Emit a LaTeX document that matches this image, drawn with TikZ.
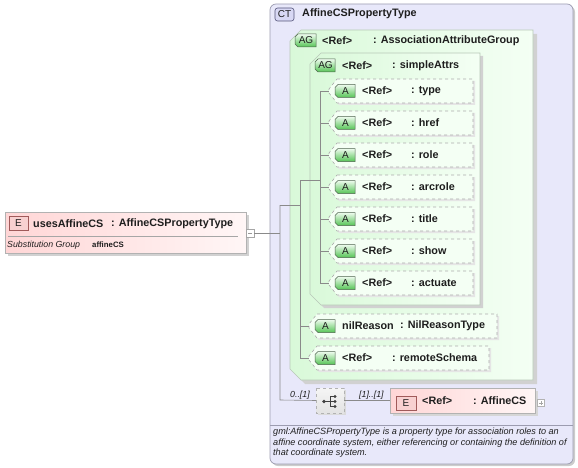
\documentclass[tikz,border=0pt]{standalone}
\usepackage{fontspec}
\setmainfont{Liberation Sans}
\usetikzlibrary{calc}
\definecolor{ctfill}{HTML}{E8E8FA}
\definecolor{ctline}{HTML}{9C9CB0}
\definecolor{ctbadge}{HTML}{D8D8F4}
\definecolor{ctbadgeline}{HTML}{55557A}
\definecolor{agleft}{HTML}{D9F9D9}
\definecolor{agright}{HTML}{F4FFF4}
\definecolor{agline}{HTML}{B8C8B8}
\definecolor{badgetop}{HTML}{EEFBEE}
\definecolor{badgebot}{HTML}{55C455}
\definecolor{badgeline}{HTML}{4E644E}
\definecolor{pinkleft}{HTML}{FFD6D6}
\definecolor{pinkright}{HTML}{FFF6F6}
\definecolor{ebadge}{HTML}{F8D0D0}
\definecolor{ebadgeline}{HTML}{A05A5A}
\definecolor{conncol}{HTML}{8A8A8A}
\definecolor{txt}{HTML}{1E1E1E}
\newcommand\bx[5]{\node[inner sep=0pt,outer sep=0pt,minimum width={(#4)*1pt},minimum height={(#5)*1pt},anchor=north west] (#1) at (#2,#3) {};}
\newcommand\chpath[3]{\path[#1] ([xshift=#3pt]#2.north west) -- (#2.north east) -- (#2.south east) -- ([xshift=#3pt]#2.south west) -- ([yshift=#3pt]#2.south west) -- ([yshift=-#3pt]#2.north west) -- cycle;}
\newcommand\ptpath[2]{\path[#1] ([xshift=8pt]#2.north west) -- (#2.north east) -- (#2.south east) -- ([xshift=8pt]#2.south west) -- ([yshift=10pt]#2.south west) -- ([yshift=-10pt]#2.north west) -- cycle;}
\tikzset{
  lbl/.style={anchor=west,inner sep=0pt,font=\fontsize{10.8}{12}\selectfont\bfseries,text=txt},
  badgetxt/.style={inner sep=0pt,font=\fontsize{10}{11}\selectfont,text=txt},
  conn/.style={draw=conncol,line width=0.6pt},
  abox/.style={fill=agright,draw=gray!65,dashed,line width=0.6pt},
  shadowfill/.style={fill=black!18,draw=none},
  greenbadge/.style={top color=badgetop,bottom color=badgebot,draw=badgeline,line width=0.5pt},
  agbox/.style={left color=agleft,right color=agright,draw=agline,line width=0.6pt},
  pinkbox/.style={left color=pinkleft,right color=pinkright,draw=gray!60,line width=0.6pt},
  ebadgest/.style={fill=ebadge,draw=ebadgeline,line width=0.5pt},
  smallit/.style={anchor=west,inner sep=0pt,font=\fontsize{8.8}{10}\selectfont\itshape,text=txt},
}
\newcommand\attr[8]{%
  \bx{#1}{#2}{#4-12}{#3-#2}{24}
  \begin{scope}[transform canvas={xshift=2pt,yshift=-2pt}]\ptpath{fill=black!10}{#1}\end{scope}
  \ptpath{abox}{#1}
  \bx{#1b}{#2+6}{#4-6.5}{20}{13}
  \chpath{greenbadge}{#1b}{3}
  \node[badgetxt] at ([xshift=0.5pt]#1b.center) {A};
  \node[lbl] (#1r) at (#5,#4) {#6};
  \node[lbl] (#1t) at (#7,#4) {#8};
}
\begin{document}
\begin{tikzpicture}[x=1pt,y=-1pt]
\useasboundingbox (0,0) rectangle (578,468);
% ---------- complex type box
\bx{ct}{270}{4}{303}{460}
\begin{scope}[transform canvas={xshift=2pt,yshift=-2pt}]
\fill[black!20,rounded corners=6pt] (ct.north west) rectangle (ct.south east);
\end{scope}
\draw[fill=ctfill,draw=ctline,line width=0.7pt,rounded corners=6pt] (ct.north west) rectangle (ct.south east);
\bx{ctb}{275}{8}{19}{13}
\draw[fill=ctbadge,draw=ctbadgeline,rounded corners=2.5pt,line width=0.6pt] (ctb.north west) rectangle (ctb.south east);
\node[badgetxt] at (ctb) {CT};
\node[lbl] (ctname) at (302,14) {AffineCSPropertyType};
\coordinate (docl) at (270,425);
\coordinate (docr) at (573,425);
\draw[ctline,line width=0.6pt] (docl) -- (docr);
\node[anchor=north west,inner sep=0pt,align=left,font=\fontsize{9.1}{10.3}\selectfont\itshape,text=txt] (doc) at (273,428)
 {gml:AffineCSPropertyType is a property type for association roles to an\\affine coordinate system, either referencing or containing the definition of\\that coordinate system.};
% ---------- attribute group box
\bx{ag}{290}{30}{243}{350}
\begin{scope}[transform canvas={xshift=4pt,yshift=-4pt}]\chpath{shadowfill}{ag}{11}\end{scope}
\chpath{agbox}{ag}{11}
\bx{agb}{295}{34}{21}{13}
\chpath{greenbadge}{agb}{3}
\node[badgetxt] at ([xshift=0.5pt]agb.center) {AG};
\node[lbl] at (322,41) {<Ref>};
\node[lbl] at (373,41) {: AssociationAttributeGroup};
% ---------- simpleAttrs box
\bx{sa}{310}{53}{170}{252}
\begin{scope}[transform canvas={xshift=3pt,yshift=-3pt}]\chpath{shadowfill}{sa}{11}\end{scope}
\chpath{agbox}{sa}{11}
\bx{sab}{315}{59}{20}{13}
\chpath{greenbadge}{sab}{3}
\node[badgetxt] at ([xshift=0.5pt]sab.center) {AG};
\node[lbl] at (342,66) {<Ref>};
\node[lbl] at (392,66) {: simpleAttrs};
% ---------- attributes
\attr{type}{329}{473}{91}{362}{<Ref>}{411}{: type}
\attr{href}{329}{473}{123}{362}{<Ref>}{411}{: href}
\attr{role}{329}{473}{155}{362}{<Ref>}{411}{: role}
\attr{arcrole}{329}{473}{187}{362}{<Ref>}{411}{: arcrole}
\attr{title}{329}{473}{219}{362}{<Ref>}{411}{: title}
\attr{show}{329}{473}{251}{362}{<Ref>}{411}{: show}
\attr{actuate}{329}{473}{283}{362}{<Ref>}{411}{: actuate}
\attr{nil}{309}{497}{326}{342}{nilReason}{400}{: NilReasonType}
\attr{remote}{309}{489}{358}{342}{<Ref>}{392}{: remoteSchema}
% ---------- left element
\bx{uses}{5}{212}{241}{41}
\begin{scope}[transform canvas={xshift=3pt,yshift=-3pt}]\fill[black!18] (uses.north west) rectangle (uses.south east);\end{scope}
\draw[pinkbox] (uses.north west) rectangle (uses.south east);
\bx{usese}{9}{216}{19}{14}
\draw[ebadgest] (usese.north west) rectangle (usese.south east);
\node[badgetxt] at (usese) {E};
\node[lbl] at (33,224) {usesAffineCS};
\node[lbl] at (111,224) {: AffineCSPropertyType};
\coordinate (sepl) at (8,236);
\coordinate (sepr) at (238,236);
\draw[gray!70,line width=0.6pt] (sepl) -- (sepr);
\node[smallit] at (7,245) {Substitution Group};
\node[anchor=west,inner sep=0pt,font=\fontsize{7.8}{9}\selectfont\bfseries,text=txt] at (92,244.5) {affineCS};
\node[draw=gray!70,fill=white,minimum width=8pt,minimum height=8pt,inner sep=0pt,line width=0.5pt] (minus) at (250,233) {};
\draw[gray!80,line width=0.6pt] ([xshift=-2pt]minus.center) -- ([xshift=2pt]minus.center);
% ---------- sequence + element
\bx{seq}{316}{388}{28}{25}
\begin{scope}[transform canvas={xshift=2pt,yshift=-2pt}]\fill[black!14] (seq.north west) rectangle (seq.south east);\end{scope}
\draw[top color=gray!8,bottom color=gray!22,draw=gray!60,dashed,line width=0.6pt] (seq.north west) rectangle (seq.south east);
\coordinate (ic) at (seq.center);
\fill[black!75] ($(ic)+(-6,1)$) circle (1.8pt);
\draw[black!75,line width=0.7pt] ($(ic)+(-6,1)$) -- ($(ic)+(0,1)$);
\draw[black!75,line width=0.7pt] ($(ic)+(0,-4)$) -- ($(ic)+(0,6)$);
\draw[black!75,line width=0.7pt] ($(ic)+(0,-4)$) -- ($(ic)+(4,-4)$) ($(ic)+(0,1)$) -- ($(ic)+(4,1)$) ($(ic)+(0,6)$) -- ($(ic)+(4,6)$);
\fill[black!75] ($(ic)+(5,-4)$) circle (1.6pt) ($(ic)+(5,1)$) circle (1.6pt) ($(ic)+(5,6)$) circle (1.6pt);
\node[smallit] at (290,395) {0..[1]};
\node[smallit] at (359,395) {[1]..[1]};
\bx{aff}{390}{388}{145}{25}
\begin{scope}[transform canvas={xshift=3pt,yshift=-3pt}]\fill[black!16] (aff.north west) rectangle (aff.south east);\end{scope}
\draw[pinkbox] (aff.north west) rectangle (aff.south east);
\bx{affe}{396}{396}{20}{14}
\draw[ebadgest] (affe.north west) rectangle (affe.south east);
\node[badgetxt] at (affe) {E};
\node[lbl] at (422,401) {<Ref>};
\node[lbl] at (473,401) {: AffineCS};
\node[draw=gray!60,fill=white,minimum width=7pt,minimum height=7pt,inner sep=0pt,line width=0.5pt] (plus) at (541,403) {};
\draw[gray!70,line width=0.5pt] ([xshift=-2pt]plus.center) -- ([xshift=2pt]plus.center) ([yshift=-2pt]plus.center) -- ([yshift=2pt]plus.center);
% ---------- connectors
\coordinate (s1top) at (280,205);
\coordinate (s1bot) at (280,400);
\coordinate (s2top) at (300,180);
\coordinate (s2bot) at (300,358);
\coordinate (s3top) at (320,91);
\coordinate (s3bot) at (320,283);
\draw[conn] (minus.east) -- (minus.east -| s1top);
\draw[conn] (s1top) -- (s1bot) -- (seq.west);
\draw[conn] (s1top) -- (s1top -| s2top);
\draw[conn] (s2top) -- (s2bot);
\draw[conn] (s2top) -- (s2top -| s3top);
\draw[conn] (s3top) -- (s3bot);
\foreach \n in {type,href,role,arcrole,title,show,actuate}{\draw[conn] (s3top |- \n.west) -- (\n.west);}
\foreach \n in {nil,remote}{\draw[conn] (s2top |- \n.west) -- (\n.west);}
\draw[conn] (seq.east) -- (aff.west);
\end{tikzpicture}
\end{document}
